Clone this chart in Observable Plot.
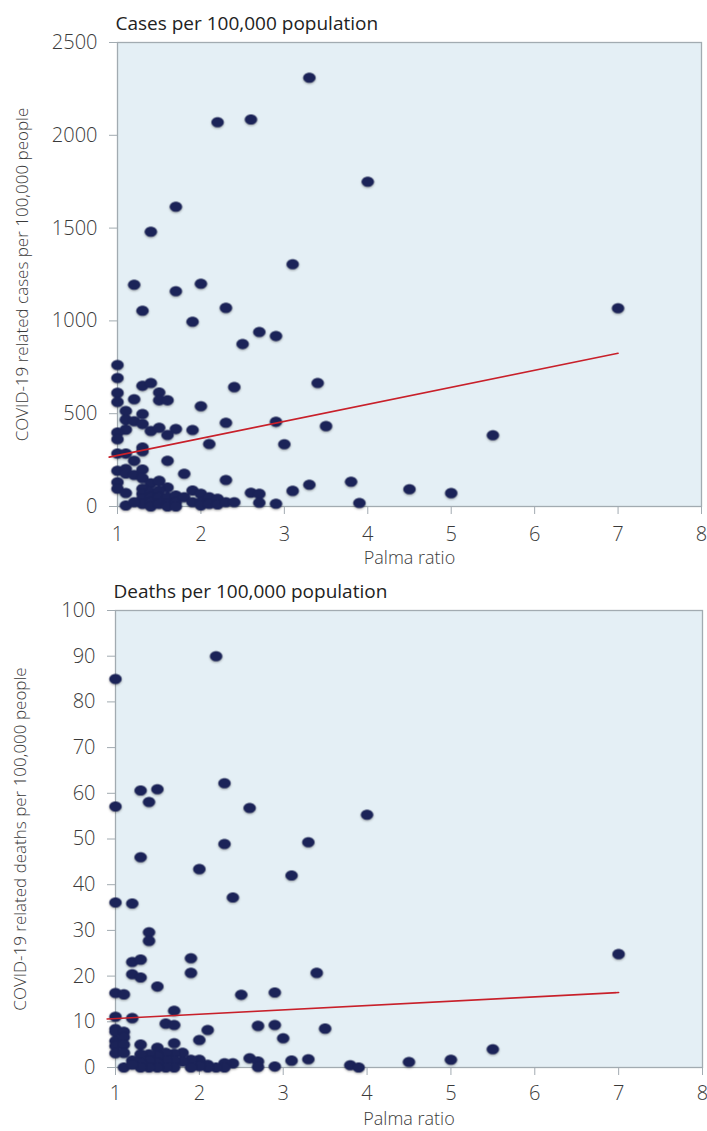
<!DOCTYPE html>
<html>
<head>
<meta charset="utf-8">
<script src="https://cdn.jsdelivr.net/npm/d3@7"></script>
<script src="https://cdn.jsdelivr.net/npm/@observablehq/plot@0.6"></script>
<style>
  html, body { margin: 0; padding: 0; background: #fff; }
  #wrap { position: relative; width: 707px; height: 1131px; }
  #wrap svg { position: absolute; left: 0; }
</style>
</head>
<body>
<div id="wrap"></div>
<script>
// ---- Data ----
const xTicks = [1, 2, 3, 4, 5, 6, 7, 8];
const casesTicks = [0, 500, 1000, 1500, 2000, 2500];
const deathsTicks = [0, 10, 20, 30, 40, 50, 60, 70, 80, 90, 100];

const casesPalma = [
  3.3, 2.2, 2.6, 1.7, 1.4, 3.1, 4.0, 1.2, 2.0, 1.7, 1.3, 2.3, 1.9, 2.7, 2.9, 2.5,
  1.0, 1.0, 1.0, 1.0, 1.3, 1.4, 1.2, 1.5, 1.5, 1.6, 2.4, 3.4, 2.0, 1.1, 1.3, 1.1,
  1.2, 1.3, 2.3, 2.9, 1.1, 1.0, 1.0, 1.4, 1.5, 1.7, 1.6, 1.9, 3.5, 2.1, 3.0, 1.3,
  1.3, 1.0, 1.1, 1.2, 1.6, 1.0, 1.1, 1.1, 1.2, 1.3, 1.3, 1.8, 2.3, 1.0, 1.0, 1.1,
  1.4, 1.5, 1.6, 2.6, 2.7, 3.1, 3.3, 3.8, 3.9, 4.5, 5.0, 5.5, 7.0,
  1.3, 1.3, 1.3, 1.3, 1.4, 1.4, 1.4, 1.4, 1.5, 1.5, 1.5, 1.6, 1.6, 1.6, 1.7, 1.7,
  1.7, 1.8, 1.9, 1.9, 2.0, 2.0, 2.0, 2.1, 2.1, 2.2, 2.2, 2.3, 2.4, 1.1, 1.2, 2.7, 2.9
];
const cases = [
  2310, 2070, 2085, 1615, 1480, 1305, 1750, 1195, 1200, 1160, 1055, 1070, 995, 940, 918, 875,
  762, 692, 612, 563, 650, 665, 578, 614, 572, 572, 643, 665, 540, 515, 498, 468,
  459, 444, 451, 456, 414, 398, 362, 407, 424, 417, 385, 412, 433, 337, 335, 318,
  298, 285, 285, 246, 246, 193, 202, 178, 170, 199, 152, 176, 143, 130, 96, 73,
  125, 138, 102, 74, 68, 84, 117, 133, 19, 93, 72, 384, 1068,
  95, 68, 41, 14, 77, 50, 23, 0, 86, 50, 14, 50, 14, 0, 59, 23,
  0, 50, 86, 23, 68, 23, 5, 50, 14, 41, 11, 23, 23, 5, 23, 20, 15
];

const deathsPalma = [
  2.2, 1.0, 1.0, 1.3, 1.4, 1.5, 2.3, 2.6, 2.3, 3.3, 4.0, 1.3, 2.0, 3.1, 1.0, 1.2,
  2.4, 1.4, 1.4, 1.2, 1.3, 1.2, 1.3, 1.9, 1.9, 3.4, 1.5, 1.0, 1.1, 2.5, 2.9, 1.0,
  1.2, 1.7, 1.6, 1.7, 2.7, 2.9, 2.1, 3.5, 1.0, 1.0, 1.1, 3.0, 2.0, 1.7, 1.0, 1.0,
  1.0, 1.1, 1.1, 1.1, 1.3, 1.5, 2.6, 3.1, 3.3, 2.9, 2.7, 2.7, 1.1, 2.4, 2.3, 2.3,
  2.2, 2.1, 2.1, 2.0, 2.0, 1.9, 1.9, 1.8, 1.8, 1.7, 1.7, 1.7, 1.6, 1.6, 1.6, 1.5,
  1.5, 1.5, 1.4, 1.4, 1.4, 1.3, 1.3, 1.3, 1.2, 1.2, 3.8, 3.9, 4.5, 5.0, 5.5, 7.0
];
const deaths = [
  90, 85, 57.1, 60.6, 58.1, 60.9, 62.2, 56.8, 48.9, 49.3, 55.3, 46, 43.4, 42, 36.1, 35.9,
  37.2, 29.6, 27.7, 23.1, 23.6, 20.4, 19.7, 23.9, 20.7, 20.7, 17.7, 16.3, 16.0, 15.9, 16.4, 11.1,
  10.8, 12.4, 9.6, 9.3, 9.1, 9.3, 8.2, 8.5, 8.4, 7.8, 7.8, 6.4, 6.0, 5.3, 5.8, 4.7,
  3.1, 6.6, 5.0, 3.2, 5.0, 4.3, 2.0, 1.5, 1.8, 0.2, 1.3, 0.1, 0, 0.9, 0.9, 0,
  0, 0.6, 0, 1.7, 0.3, 1.7, 0, 3.2, 1.3, 3.0, 1.5, 0, 3.2, 1.5, 0, 2.5,
  1.0, 0, 2.9, 1.5, 0, 2.9, 1.0, 0, 1.5, 0.6, 0.5, 0, 1.2, 1.7, 4.0, 24.8
];

// Fitted line end points as drawn in the reference
const trendPalma = [0.9, 7.0];
const trendCases = [266, 826];
const trendDeaths = [10.6, 16.4];

const titles = ["Cases per 100,000 population", "Deaths per 100,000 population"];
const yLabels = ["COVID-19 related cases per 100,000 people", "COVID-19 related deaths per 100,000 people"];
const xLabel = "Palma ratio";

// ---- Helpers ----
const ellipse = {
  draw(ctx, size) {
    const r = Math.sqrt(size / Math.PI);
    const rx = r * 1.1, ry = r * 0.9, k = 0.5523;
    ctx.moveTo(rx, 0);
    ctx.bezierCurveTo(rx, ry * k, rx * k, ry, 0, ry);
    ctx.bezierCurveTo(-rx * k, ry, -rx, ry * k, -rx, 0);
    ctx.bezierCurveTo(-rx, -ry * k, -rx * k, -ry, 0, -ry);
    ctx.bezierCurveTo(rx * k, -ry, rx, -ry * k, rx, 0);
    ctx.closePath();
  }
};

const BG = "#e4eff5", FRAME = "#a2abb1", DOT = "#1b2358", RED = "#c8202a", TXT = "#3a3a3a";
const fmt = d => String(d);

function panel({xs, ys, yTicks, yMax, trendY, title, yLabel, height, marginTop, marginBottom, marginLeft, marginRight, xPad, xLabelDy}) {
  const pts = xs.map((x, i) => ({x, y: ys[i]}));
  const trend = trendPalma.map((x, i) => ({x, y: trendY[i]}));
  return Plot.plot({
    width: 707,
    height,
    marginTop, marginBottom, marginLeft, marginRight,
    style: {fontFamily: "'Open Sans', sans-serif", fontSize: "20px", color: TXT, background: "transparent", overflow: "visible"},
    x: {domain: [1, 8]},
    y: {domain: [0, yMax]},
    marks: [
      Plot.frame({fill: BG, stroke: FRAME, strokeWidth: 1.3}),
      Plot.axisX({ticks: xTicks, tickFormat: fmt, tickSize: 8, tickPadding: xPad, stroke: FRAME, fill: TXT, fontWeight: 300, fontSize: 20, label: null}),
      Plot.axisY({ticks: yTicks, tickFormat: fmt, tickSize: 8, tickPadding: 12, stroke: FRAME, fill: TXT, fontWeight: 300, fontSize: 20, label: null}),
      Plot.dot(pts, {x: "x", y: "y", r: 5.6, symbol: ellipse, fill: DOT, stroke: "none", imageFilter: "drop-shadow(0.5px 1px 0.8px rgba(0,0,0,0.35))"}),
      Plot.line(trend, {x: "x", y: "y", stroke: RED, strokeWidth: 1.6}),
      Plot.text([title], {frameAnchor: "top-left", textAnchor: "start", lineAnchor: "bottom", dy: -13, dx: -2, fontSize: 19, fill: "#222"}),
      Plot.text([yLabel], {frameAnchor: "left", textAnchor: "middle", lineAnchor: "middle", rotate: -90, dx: -95, fontSize: 17, fill: TXT, fontWeight: 300}),
      Plot.text([xLabel], {frameAnchor: "bottom", textAnchor: "middle", lineAnchor: "middle", dy: xLabelDy, fontSize: 18, fill: TXT, fontWeight: 300})
    ]
  });
}

const wrap = document.getElementById("wrap");
const casesChart = panel({
  xs: casesPalma, ys: cases, yTicks: casesTicks, yMax: 2500, trendY: trendCases,
  title: titles[0], yLabel: yLabels[0],
  height: 570, marginTop: 42, marginBottom: 64, marginLeft: 117, marginRight: 6, xPad: 12, xLabelDy: 52
});
casesChart.style.top = "0px";
wrap.appendChild(casesChart);

const deathsChart = panel({
  xs: deathsPalma, ys: deaths, yTicks: deathsTicks, yMax: 100, trendY: trendDeaths,
  title: titles[1], yLabel: yLabels[1],
  height: 561, marginTop: 40, marginBottom: 64, marginLeft: 115, marginRight: 5, xPad: 10, xLabelDy: 52
});
deathsChart.style.top = "570px";
wrap.appendChild(deathsChart);
</script>
</body>
</html>
